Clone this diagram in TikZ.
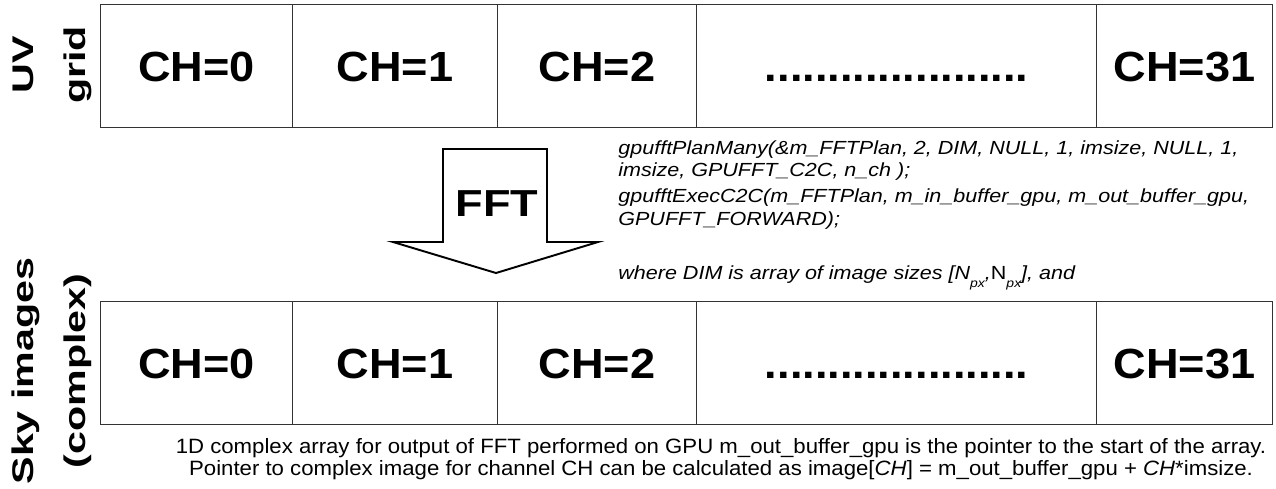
\documentclass[tikz,border=0pt]{standalone}
\usepackage{fontspec}
\setmainfont{Liberation Sans}
\newfontfamily\labfont[FakeStretch=1.38]{Liberation Sans}
\newfontfamily\chfont[FakeStretch=1.07]{Liberation Sans}
\newfontfamily\fftfont[FakeStretch=1.2]{Liberation Sans}
\newfontfamily\codefont[FakeStretch=1.135]{Liberation Sans}
\newfontfamily\notefont[FakeStretch=1.07]{Liberation Sans}
\newcommand{\px}{\raisebox{-0.8ex}{\scriptsize px}}

\begin{document}
\begin{tikzpicture}[x=0.02cm, y=-0.02cm]
        \tikzstyle{cell}=[draw=black!80, line width=0.7pt, minimum height=2.46cm, inner sep=0pt, anchor=north west, text height=17.2pt, text depth=0pt, font=\chfont\bfseries\fontsize{24}{28}\selectfont];
        \tikzstyle{rowlabel}=[rotate=90, align=center, font=\labfont\bfseries\fontsize{17}{29.5}\selectfont];
        \tikzstyle{code}=[anchor=north west, align=left, inner sep=0pt, font=\codefont\itshape\fontsize{10.8}{13}\selectfont];
        \tikzstyle{note}=[anchor=north, align=center, inner sep=0pt, font=\notefont\fontsize{11.8}{12.6}\selectfont];
        \useasboundingbox (0,0) rectangle (1276,488);

        % UV grid row
        \node[rowlabel] (uvlab) at (52,65) {UV\\grid};
        \foreach \n/\x/\w/\t in {0/100/192/CH=0, 1/292/205/CH=1, 2/497/199/CH=2, 3/696/400/{.....................}, 4/1096/176/CH=31}{
          \node[cell, minimum width=\w*0.02cm] (u\n) at (\x,4) {\t};
        }

        % FFT arrow
        \draw[line width=1.1pt, fill=white] (443,149) -- (547,149) -- (547,242) -- (598,242) -- (496,273) -- (393,242) -- (443,242) -- cycle;
        \node[font=\fftfont\bfseries\fontsize{21.4}{26}\selectfont] (fft) at (497,204) {FFT};

        % cufft calls
        \node[code] (calls) at (618,140) {gpufftPlanMany(\&m\_FFTPlan, 2, DIM, NULL, 1, imsize, NULL, 1,\\
          imsize, GPUFFT\_C2C, n\_ch );\\[1.5pt]
          gpufftExecC2C(m\_FFTPlan, m\_in\_buffer\_gpu, m\_out\_buffer\_gpu,\\
          GPUFFT\_FORWARD);\\[18pt]
          where DIM is array of image sizes [N\px,\textup{N}\px], and};

        % sky images row
        \node[rowlabel] (skylab) at (52,371) {Sky images\\(complex)};
        \foreach \n/\x/\w/\t in {0/100/192/CH=0, 1/292/205/CH=1, 2/497/199/CH=2, 3/696/400/{.....................}, 4/1096/176/CH=31}{
          \node[cell, minimum width=\w*0.02cm] (s\n) at (\x,301) {\t};
        }

        % output buffer
        \node[note] (note) at (721,438) {1D complex array for output of FFT performed on GPU m\_out\_buffer\_gpu is the pointer to the start of the array.\\
          Pointer to complex image for channel CH can be calculated as image[\textit{CH}] = m\_out\_buffer\_gpu + \textit{CH}*imsize.};
\end{tikzpicture}
\end{document}
